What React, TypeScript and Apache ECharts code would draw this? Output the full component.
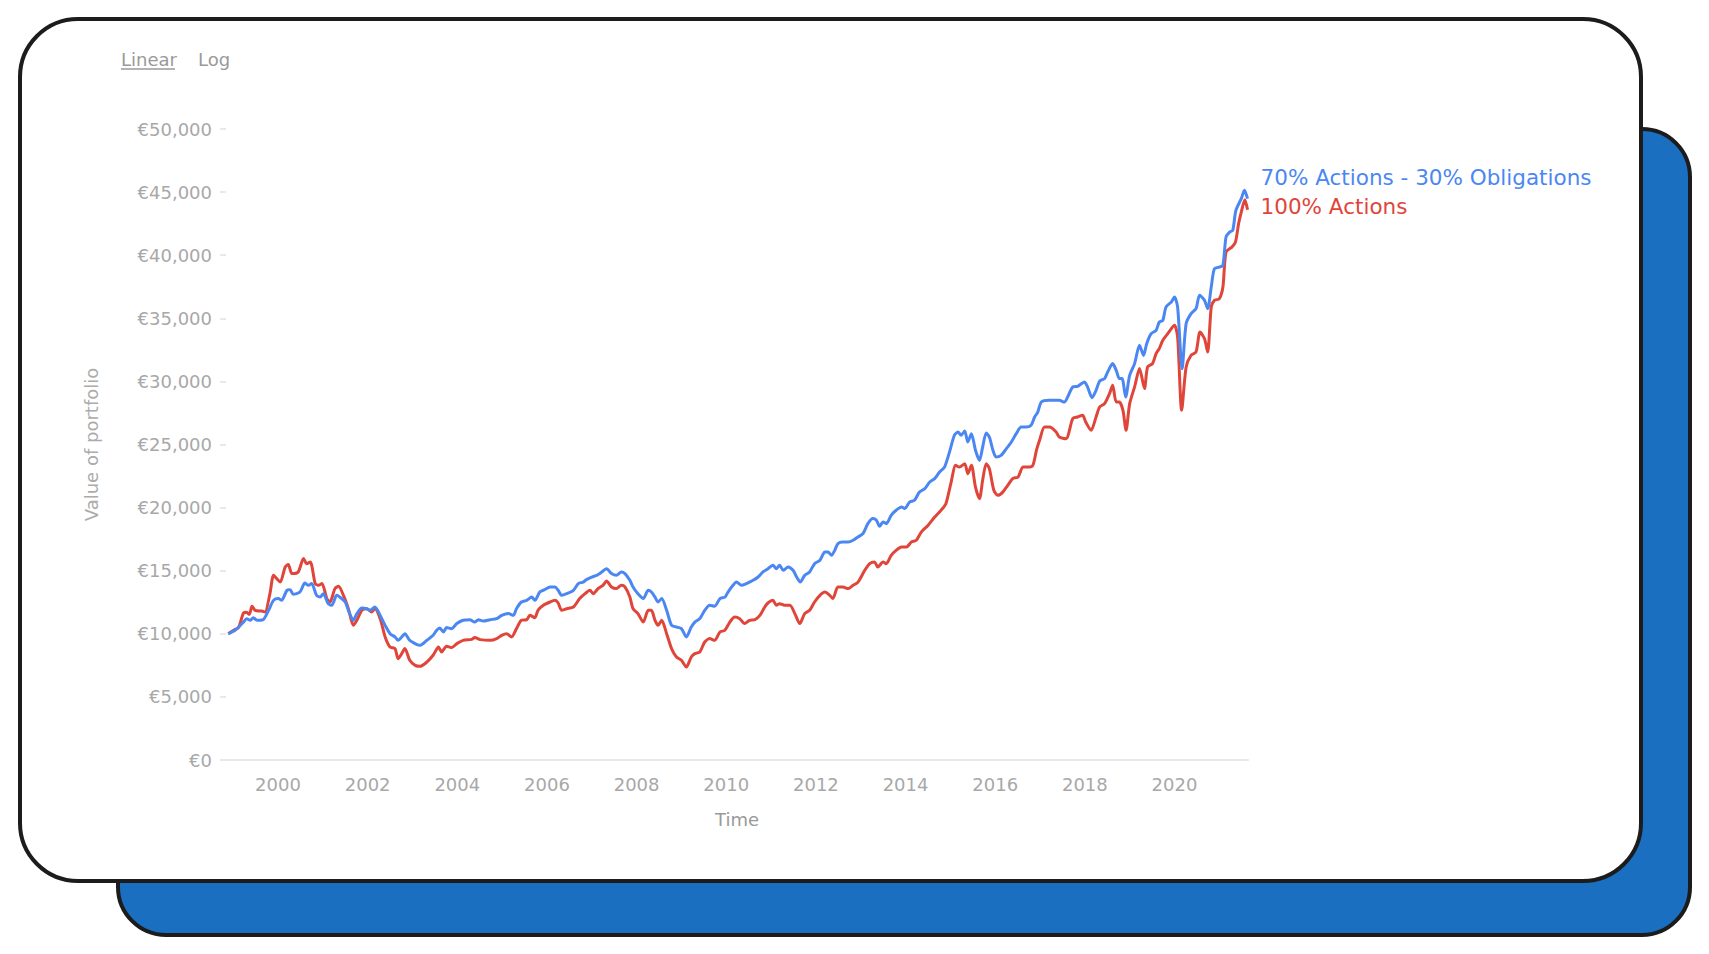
import React, { useEffect, useRef } from "react";
import * as echarts from "echarts";

// ---- data (decimal years, portfolio value in €) ----
const blueName = "70% Actions - 30% Obligations";
const redName = "100% Actions";

const blueYears = [
  1998.89, 1999.04, 1999.23, 1999.30, 1999.38, 1999.45, 1999.53, 1999.67, 1999.79, 1999.90,
  2000.01, 2000.08, 2000.20, 2000.27, 2000.34, 2000.49, 2000.60, 2000.68, 2000.75, 2000.86,
  2000.94, 2001.01, 2001.12, 2001.20, 2001.31, 2001.38, 2001.50, 2001.57, 2001.68, 2001.76,
  2001.87, 2001.98, 2002.05, 2002.16, 2002.28, 2002.39, 2002.50, 2002.61, 2002.68, 2002.76,
  2002.83, 2002.94, 2003.09, 2003.17, 2003.32, 2003.46, 2003.54, 2003.61, 2003.69, 2003.76,
  2003.87, 2003.99, 2004.13, 2004.28, 2004.39, 2004.47, 2004.58, 2004.73, 2004.88, 2004.99,
  2005.14, 2005.25, 2005.32, 2005.43, 2005.55, 2005.66, 2005.73, 2005.84, 2005.95, 2006.07,
  2006.18, 2006.25, 2006.33, 2006.44, 2006.59, 2006.70, 2006.81, 2006.88, 2007.00, 2007.11,
  2007.18, 2007.25, 2007.33, 2007.44, 2007.55, 2007.66, 2007.74, 2007.85, 2007.92, 2008.03,
  2008.15, 2008.26, 2008.33, 2008.41, 2008.48, 2008.56, 2008.67, 2008.78, 2008.89, 2009.00,
  2009.11, 2009.22, 2009.30, 2009.41, 2009.52, 2009.63, 2009.74, 2009.86, 2009.97, 2010.04,
  2010.15, 2010.23, 2010.34, 2010.45, 2010.60, 2010.71, 2010.82, 2010.93, 2011.04, 2011.12,
  2011.19, 2011.27, 2011.38, 2011.49, 2011.57, 2011.65, 2011.75, 2011.86, 2011.97, 2012.09,
  2012.20, 2012.27, 2012.35, 2012.42, 2012.49, 2012.60, 2012.72, 2012.83, 2012.94, 2013.05,
  2013.16, 2013.27, 2013.35, 2013.42, 2013.50, 2013.57, 2013.68, 2013.79, 2013.91, 2013.98,
  2014.09, 2014.20, 2014.31, 2014.43, 2014.54, 2014.65, 2014.76, 2014.87, 2014.98, 2015.09,
  2015.17, 2015.24, 2015.32, 2015.39, 2015.47, 2015.56, 2015.65, 2015.72, 2015.80, 2015.87,
  2015.95, 2016.02, 2016.13, 2016.25, 2016.36, 2016.47, 2016.58, 2016.69, 2016.80, 2016.88,
  2016.95, 2017.03, 2017.21, 2017.43, 2017.54, 2017.65, 2017.73, 2017.84, 2017.99, 2018.06,
  2018.16, 2018.25, 2018.33, 2018.44, 2018.51, 2018.62, 2018.70, 2018.77, 2018.83, 2018.91,
  2019.00, 2019.11, 2019.22, 2019.31, 2019.38, 2019.48, 2019.59, 2019.66, 2019.74, 2019.81,
  2019.93, 2020.00, 2020.07, 2020.17, 2020.26, 2020.37, 2020.48, 2020.56, 2020.67, 2020.74,
  2020.82, 2020.89, 2021.00, 2021.08, 2021.15, 2021.23, 2021.30, 2021.37, 2021.49, 2021.56,
  2021.63,
];
const blueValues = [
  10000, 10280, 10930, 11200, 11070, 11280, 11070, 11120, 11860, 12650,
  12790, 12650, 13450, 13500, 13130, 13310, 14020, 13840, 13980, 13050,
  12910, 13180, 12390, 12260, 13050, 12910, 12520, 11860, 11070, 11600,
  12040, 11990, 11860, 12120, 11460, 10670, 10010, 9750, 9480, 9750,
  10010, 9480, 9170, 9090, 9480, 9880, 10280, 10450, 10140, 10490,
  10410, 10810, 11070, 11120, 10930, 11120, 11010, 11120, 11200, 11460,
  11600, 11460, 11990, 12520, 12650, 12910, 12650, 13310, 13500, 13710,
  13710, 13450, 13050, 13180, 13450, 13980, 14100, 14290, 14500, 14630,
  14770, 14970, 15160, 14770, 14630, 14900, 14770, 14240, 13710, 13180,
  12790, 13450, 13310, 12910, 12520, 12790, 11860, 10670, 10540, 10410,
  9750, 10540, 10930, 11200, 11860, 12260, 12180, 12790, 12910, 13310,
  13840, 14100, 13840, 13980, 14240, 14500, 14900, 15160, 15430, 15160,
  15430, 15030, 15290, 15030, 14500, 14100, 14630, 14900, 15560, 15820,
  16480, 16480, 16220, 16610, 17140, 17270, 17270, 17410, 17670, 17940,
  18730, 19130, 19000, 18520, 18860, 18730, 19390, 19790, 20050, 19920,
  20440, 20580, 21230, 21500, 22030, 22300, 22820, 23210, 24400, 25730,
  25990, 25730, 26070, 25200, 25860, 24540, 23740, 24800, 25910, 25590,
  24540, 24010, 24140, 24670, 25200, 25860, 26380, 26380, 26520, 27180,
  27570, 28370, 28500, 28500, 28360, 29030, 29560, 29610, 29950, 29560,
  28710, 29290, 30030, 30220, 30750, 31410, 30880, 30220, 30220, 28760,
  30480, 31410, 32860, 32060, 32990, 33780, 34050, 34700, 34840, 35890,
  36290, 36680, 35890, 31000, 34580, 35370, 35760, 36820, 36420, 35760,
  37480, 38930, 39060, 39190, 41440, 41830, 41970, 43550, 44480, 45140,
  44480,
];

const redYears = [
  1998.89, 1999.01, 1999.12, 1999.23, 1999.30, 1999.36, 1999.42, 1999.49, 1999.64, 1999.71,
  1999.82, 1999.90, 1999.97, 2000.05, 2000.16, 2000.23, 2000.31, 2000.45, 2000.57, 2000.64,
  2000.72, 2000.83, 2000.90, 2000.98, 2001.09, 2001.16, 2001.27, 2001.35, 2001.46, 2001.57,
  2001.68, 2001.76, 2001.87, 2001.98, 2002.09, 2002.16, 2002.28, 2002.39, 2002.50, 2002.61,
  2002.68, 2002.76, 2002.83, 2002.94, 2003.06, 2003.17, 2003.32, 2003.46, 2003.58, 2003.65,
  2003.76, 2003.87, 2003.99, 2004.13, 2004.32, 2004.39, 2004.51, 2004.73, 2004.88, 2004.99,
  2005.10, 2005.21, 2005.32, 2005.43, 2005.55, 2005.62, 2005.73, 2005.80, 2005.92, 2006.07,
  2006.18, 2006.25, 2006.33, 2006.44, 2006.59, 2006.73, 2006.85, 2006.96, 2007.03, 2007.14,
  2007.25, 2007.33, 2007.44, 2007.55, 2007.66, 2007.74, 2007.85, 2007.92, 2008.03, 2008.15,
  2008.26, 2008.33, 2008.41, 2008.48, 2008.56, 2008.67, 2008.78, 2008.89, 2009.00, 2009.11,
  2009.22, 2009.30, 2009.41, 2009.52, 2009.63, 2009.74, 2009.86, 2009.97, 2010.08, 2010.19,
  2010.30, 2010.41, 2010.52, 2010.64, 2010.75, 2010.86, 2010.93, 2011.04, 2011.12, 2011.19,
  2011.30, 2011.42, 2011.53, 2011.64, 2011.75, 2011.86, 2011.97, 2012.09, 2012.20, 2012.31,
  2012.38, 2012.49, 2012.60, 2012.72, 2012.83, 2012.94, 2013.09, 2013.20, 2013.31, 2013.38,
  2013.50, 2013.57, 2013.68, 2013.79, 2013.91, 2014.02, 2014.13, 2014.24, 2014.35, 2014.50,
  2014.65, 2014.79, 2014.90, 2015.01, 2015.12, 2015.20, 2015.32, 2015.39, 2015.47, 2015.56,
  2015.65, 2015.72, 2015.80, 2015.87, 2015.97, 2016.06, 2016.17, 2016.28, 2016.39, 2016.51,
  2016.62, 2016.73, 2016.84, 2016.92, 2016.99, 2017.10, 2017.21, 2017.36, 2017.43, 2017.58,
  2017.73, 2017.84, 2017.95, 2018.02, 2018.14, 2018.25, 2018.33, 2018.44, 2018.55, 2018.62,
  2018.70, 2018.77, 2018.85, 2018.92, 2019.00, 2019.11, 2019.22, 2019.33, 2019.40, 2019.51,
  2019.59, 2019.66, 2019.74, 2019.85, 2020.00, 2020.07, 2020.16, 2020.26, 2020.37, 2020.48,
  2020.57, 2020.67, 2020.74, 2020.82, 2020.89, 2021.00, 2021.08, 2021.15, 2021.28, 2021.36,
  2021.43, 2021.49, 2021.57, 2021.63,
];
const redValues = [
  10000, 10280, 10490, 11650, 11700, 11540, 12180, 11860, 11800, 11730,
  13180, 14630, 14370, 14100, 15290, 15500, 14770, 14900, 15960, 15560,
  15690, 13980, 13840, 13980, 12790, 12520, 13580, 13760, 13050, 11990,
  10670, 11070, 11860, 11990, 11730, 11990, 11200, 9750, 8950, 8830,
  8030, 8430, 8830, 7900, 7500, 7420, 7760, 8300, 8950, 8560,
  9010, 8900, 9220, 9480, 9560, 9700, 9540, 9480, 9620, 9880,
  10010, 9750, 10410, 11070, 11120, 11460, 11280, 11860, 12260, 12520,
  12650, 12440, 11860, 11990, 12120, 12790, 13180, 13450, 13180, 13580,
  13840, 14180, 13710, 13580, 13840, 13710, 12910, 11990, 11600, 10930,
  11860, 11860, 11070, 10670, 11070, 10010, 8830, 8160, 7900, 7370,
  8160, 8430, 8560, 9350, 9620, 9480, 10140, 10280, 10930, 11330,
  11200, 10810, 11070, 11120, 11460, 12120, 12440, 12650, 12260, 12390,
  12260, 12260, 11600, 10810, 11600, 11860, 12520, 13050, 13310, 13050,
  12790, 13710, 13710, 13580, 13840, 14100, 15030, 15560, 15690, 15290,
  15690, 15560, 16220, 16610, 16880, 16880, 17270, 17410, 18060, 18590,
  19250, 19780, 20310, 21900, 23350, 23210, 23480, 22690, 23350, 21630,
  20710, 22160, 23480, 23090, 21370, 20970, 21230, 21760, 22300, 22430,
  23210, 23210, 23350, 24540, 25330, 26380, 26380, 25990, 25590, 25460,
  27050, 27180, 27310, 26780, 26120, 27180, 27970, 28240, 29030, 29690,
  28360, 28360, 27710, 26120, 28240, 29560, 31020, 29430, 31150, 31410,
  32200, 32600, 33260, 33780, 34440, 33510, 27710, 31150, 32070, 32330,
  33910, 33380, 32330, 35890, 36420, 36550, 37480, 40250, 40640, 41040,
  42490, 43420, 44400, 43600,
];

const yearTicks = [2000, 2002, 2004, 2006, 2008, 2010, 2012, 2014, 2016, 2018, 2020];
const scaleOptions = ["Linear", "Log"];

const FONT = "DejaVu Sans";
const BLUE = "#4b87f2";
const RED = "#e0453a";

function zip(xs: number[], ys: number[]) {
  return xs.map((x, i) => [x, ys[i]]);
}

export default function App() {
  const ref = useRef<HTMLDivElement>(null);

  useEffect(() => {
    if (!ref.current) return;
    const chart = echarts.init(ref.current, undefined, { renderer: "svg" });
    chart.setOption({
      animation: false,
      backgroundColor: "transparent",
      textStyle: { fontFamily: FONT },
      grid: { left: 226, right: 461, top: 129, bottom: 194, containLabel: false },
      graphic: [
        {
          type: "text",
          left: 121,
          top: 50,
          style: { text: scaleOptions[0], fill: "#9a9a9a", font: `18px '${FONT}'` },
        },
        {
          type: "line",
          shape: { x1: 121, y1: 69, x2: 175, y2: 69 },
          style: { stroke: "#9a9a9a", lineWidth: 1.5 },
        },
        {
          type: "text",
          left: 198,
          top: 50,
          style: { text: scaleOptions[1], fill: "#9a9a9a", font: `18px '${FONT}'` },
        },
      ],
      xAxis: {
        type: "value",
        min: 1998.84,
        max: 2021.64,
        name: "Time",
        nameLocation: "middle",
        nameGap: 50,
        nameTextStyle: { color: "#9a9a9a", fontSize: 18, fontFamily: FONT },
        splitLine: { show: false },
        axisTick: { show: false },
        axisLine: { show: true, lineStyle: { color: "#e8e8e8", width: 2 } },
        axisLabel: {
          customValues: yearTicks,
          formatter: (v: number) => String(Math.round(v)),
          color: "#a8a8a8",
          fontSize: 18,
          fontFamily: FONT,
          margin: 15,
        },
      },
      yAxis: {
        type: "value",
        min: 0,
        max: 50000,
        interval: 5000,
        name: "Value of portfolio",
        nameLocation: "middle",
        nameRotate: 90,
        nameGap: 126,
        nameTextStyle: { color: "#ababab", fontSize: 18, fontFamily: FONT },
        splitLine: { show: false },
        axisLine: { show: false },
        axisTick: { show: true, length: 6, lineStyle: { color: "#e2e2e2", width: 1.5 } },
        axisLabel: {
          formatter: (v: number) => "€" + v.toLocaleString("en-US"),
          color: "#a8a8a8",
          fontSize: 18,
          fontFamily: FONT,
          margin: 14,
        },
      },
      series: [
        {
          name: redName,
          type: "line",
          data: zip(redYears, redValues),
          showSymbol: false,
          smooth: 0.25,
          lineStyle: { color: RED, width: 3 },
          itemStyle: { color: RED },
          z: 2,
          endLabel: {
            show: true,
            formatter: redName,
            color: RED,
            fontSize: 21.5,
            fontFamily: FONT,
            offset: [5, -3],
          },
        },
        {
          name: blueName,
          type: "line",
          data: zip(blueYears, blueValues),
          showSymbol: false,
          smooth: 0.25,
          lineStyle: { color: BLUE, width: 3 },
          itemStyle: { color: BLUE },
          z: 3,
          endLabel: {
            show: true,
            formatter: blueName,
            color: BLUE,
            fontSize: 21.5,
            fontFamily: FONT,
            offset: [5, -21],
          },
        },
      ],
    });
    return () => chart.dispose();
  }, []);

  return (
    <div style={{ position: "fixed", left: 0, top: 0, width: 1709, height: 954, background: "#fff", overflow: "hidden" }}>
      <div
        style={{
          position: "absolute",
          left: 116,
          top: 127,
          width: 1576,
          height: 810,
          boxSizing: "border-box",
          background: "#1a6fc0",
          border: "4px solid #1c1c1c",
          borderRadius: 50,
        }}
      />
      <div
        style={{
          position: "absolute",
          left: 18,
          top: 17,
          width: 1625,
          height: 866,
          boxSizing: "border-box",
          background: "#ffffff",
          border: "4px solid #1c1c1c",
          borderRadius: 60,
        }}
      />
      <div ref={ref} style={{ position: "absolute", left: 0, top: 0, width: 1709, height: 954 }} />
    </div>
  );
}
